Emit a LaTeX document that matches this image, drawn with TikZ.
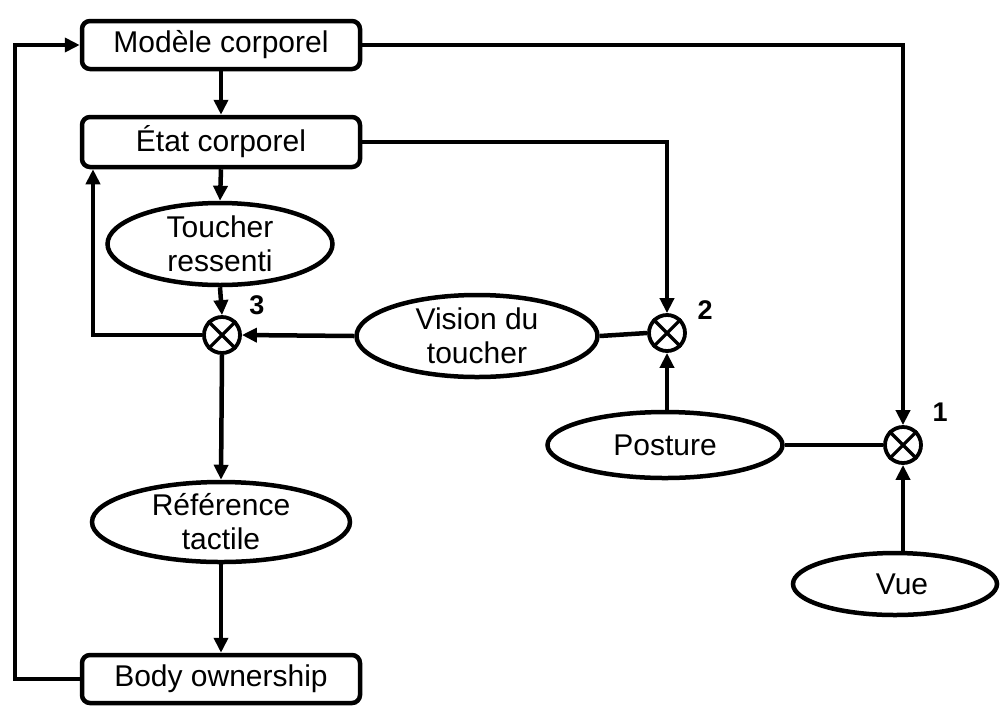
\documentclass[tikz,border=0pt]{standalone}
\usepackage{fontspec}
\setmainfont{Liberation Sans}
\usetikzlibrary{shapes.geometric,arrows.meta}
\begin{document}
\begin{tikzpicture}[x=1pt,y=-1pt,
  txt/.style={font=\fontsize{30pt}{34pt}\selectfont, align=center, inner sep=0pt},
  boxnode/.style={draw, line width=4.5pt, rounded corners=8pt, minimum width=278pt, minimum height=48pt, inner sep=0pt, font=\fontsize{30pt}{34pt}\selectfont},
  ell/.style={draw, ellipse, line width=4.5pt, inner sep=0pt},
  comp/.style={draw, circle, line width=3.8pt, minimum size=36pt, inner sep=0pt},
  num/.style={font=\fontsize{27pt}{30pt}\selectfont\bfseries, inner sep=0pt},
  conn/.style={line width=4.5pt},
  arr/.style={line width=4.5pt, -{Triangle[length=15pt,width=14pt]}}
]
\useasboundingbox (0,0) rectangle (1000,705);

% boxes
\node[boxnode] (mod) at (221,45) {Modèle corporel};
\node[boxnode, minimum height=50pt] (etat) at (221,142) {État corporel};
\node[boxnode] (body) at (221,679) {Body ownership};

% ellipses
\node[ell, minimum width=225pt, minimum height=82pt, label={[txt]center:Toucher\\ressenti}] (touch) at (220,244) {};
\node[ell, minimum width=241pt, minimum height=82pt, label={[txt]center:Vision du\\toucher}] (vision) at (477,336) {};
\node[ell, minimum width=258pt, minimum height=80pt, label={[txt]center:Référence\\tactile}] (ref) at (221,522) {};
\node[ell, minimum width=235pt, minimum height=66pt, label={[txt]center:Posture}] (post) at (665,445) {};
\node[ell, minimum width=204pt, minimum height=62pt, label={[txt,xshift=7pt]center:Vue}] (vue) at (895,584) {};

% comparators
\node[comp] (c3) at (222,335) {};
\node[comp] (c2) at (667,333) {};
\node[comp] (c1) at (903,445) {};
\foreach \c in {c1,c2,c3}{
  \draw[line width=3.2pt] (\c.north east) -- (\c.south west);
  \draw[line width=3.2pt] (\c.north west) -- (\c.south east);
}
\node[num] (n3) at (257,305) {3};
\node[num] (n2) at (705,310) {2};
\node[num] (n1) at (940,412) {1};

% helper coordinates
\coordinate (lx) at (15,0);
\coordinate (ex) at (93,0);

% connectors
\draw[arr] (mod.south) -- (etat.north);
\draw[arr] (etat.south) -- (touch.north);
\draw[arr] (touch.south) -- (c3.north);
\draw[arr] (vision.west) -- (c3.east);
\draw[arr] (c3.south) -- (ref.north);
\draw[arr] (ref.south) -- (body.north);
\draw[arr] (body.west) -- (body.west -| lx) |- (mod.west);
\draw[arr] (c3.west) -- (c3.west -| ex) -- (ex |- etat.south);
\draw[arr] (mod.east) -| (c1.north);
\draw[arr] (etat.east) -| (c2.north);
\draw[conn] (vision.east) -- (c2.west);
\draw[arr] (c2 |- post.north) -- (c2.south);
\draw[conn] (post.east) -- (c1.west);
\draw[arr] (c1 |- vue.north) -- (c1.south);
\end{tikzpicture}
\end{document}
